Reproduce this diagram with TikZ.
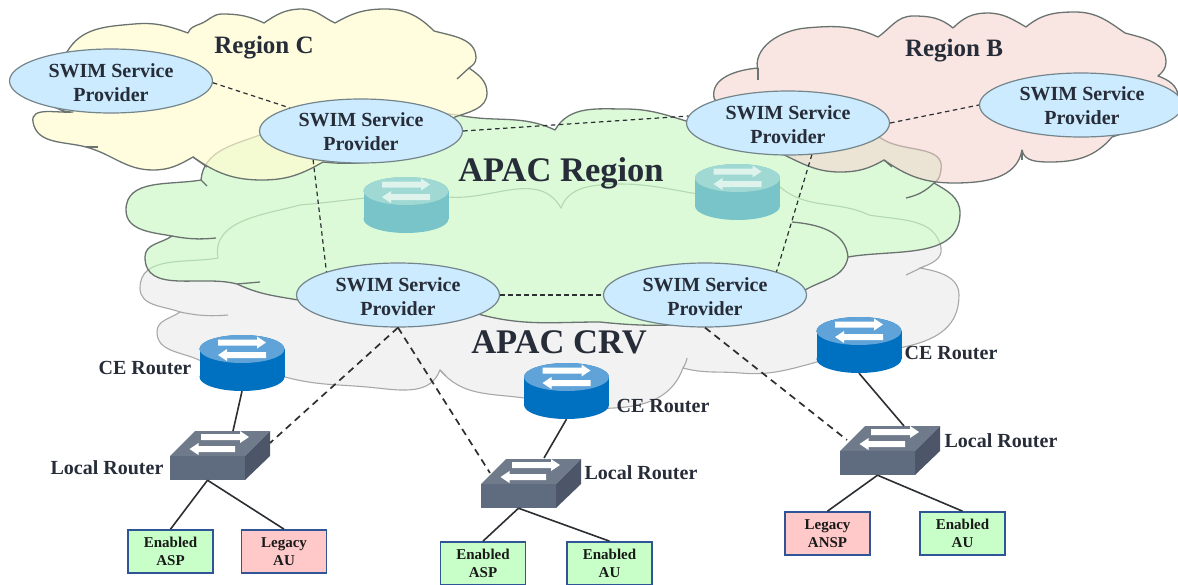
\documentclass[tikz,border=0pt]{standalone}
\usepackage{fontspec}
\setmainfont{Liberation Serif}
\usetikzlibrary{shapes.geometric}
\definecolor{txt}{HTML}{262C38}
\definecolor{cloudline}{HTML}{6A7370}
\definecolor{grayline}{HTML}{A8A8A8}
\definecolor{grayfill}{HTML}{F2F2F2}
\definecolor{greenfill}{HTML}{DCFAD8}
\definecolor{fainty}{HTML}{B4D8B0}
\definecolor{yellowfill}{HTML}{FFFCD0}
\definecolor{pinkfill}{HTML}{F5D5D0}
\definecolor{ellfill}{HTML}{CCEBFF}
\definecolor{ellline}{HTML}{75858C}
\definecolor{boxline}{HTML}{2F5597}
\definecolor{boxgreen}{HTML}{C8FFC8}
\definecolor{boxpink}{HTML}{FFC9C9}
\definecolor{cetop}{HTML}{5FA3D8}
\definecolor{ceside}{HTML}{0070C0}
\definecolor{teatop}{HTML}{A0D8D3}
\definecolor{teaside}{HTML}{79C4C8}
\definecolor{teaarrow}{HTML}{DDF3EC}
\definecolor{swfront}{HTML}{5F6B7E}
\definecolor{swtop}{HTML}{6F7A8B}
\definecolor{swside}{HTML}{4D5668}
\definecolor{linkc}{HTML}{2B2F33}
\tikzset{
  cloudedge/.style={draw=cloudline,line width=1.3pt,line join=round},
  swim/.style={ellipse,draw=ellline,fill=ellfill,line width=1.2pt,minimum width=203pt,minimum height=64pt,inner sep=0pt},
  swimtext/.style={align=center,text=txt,font=\fontsize{20}{24}\selectfont\bfseries},
  lbl/.style={text=txt,font=\fontsize{20}{24}\selectfont\bfseries,inner sep=0pt},
  bigtitle/.style={text=txt,font=\fontsize{34.5}{40}\selectfont\bfseries,inner sep=0pt},
  regiontitle/.style={text=txt,font=\fontsize{25}{30}\selectfont\bfseries,inner sep=0pt},
  devbox/.style={draw=boxline,line width=1.7pt,minimum width=85pt,minimum height=43pt,inner sep=0pt,align=center,text=black!90,font=\fontsize{15}{18}\selectfont\bfseries},
  farlink/.style={draw=linkc,line width=1.2pt,dash pattern=on 4.5pt off 3.5pt},
  nearlink/.style={draw=linkc,line width=1.7pt,dash pattern=on 7pt off 5pt},
  solidlink/.style={draw=linkc,line width=1.6pt},
  ghost/.style={inner sep=0pt,minimum width=#1,minimum height=56pt}
}
\def\graypath{(218,258) to[out=100,in=195](300,205) to[out=5,in=175](448,197) to[out=-5,in=120](561,208)
 to[out=70,in=185](600,185) to[out=5,in=170](692,193) to[out=-10,in=130](780,187) to[out=-40,in=155](869,215)
 to[out=-10,in=100](941,248) to[out=-80,in=20](920,268) to[out=-10,in=90](959,295) to[out=-90,in=15](817,362)
 to[out=195,in=-5](740,373) to[out=175,in=-15](683,368) to[out=-110,in=0](560,408) to[out=180,in=-8](524,398)
 to[out=172,in=-50](440,370) to[out=-110,in=-5](367,387) to[out=175,in=-15](285,377) to[out=165,in=-25](199,360)
 to[out=155,in=-90](157,332) to[out=90,in=215](180,312) to[out=160,in=-90](140,288) to[out=90,in=190](218,258) -- cycle}
\def\greenpath{(201,180) to[out=85,in=200](260,135) to[out=20,in=185](330,122) to[out=5,in=170](463,116) to[out=-10,in=155](555,130)
 to[out=60,in=180](625,109) to[out=0,in=165](700,125) to[out=-15,in=150](884,140) to[out=-30,in=80](941,170) to[out=-100,in=30](934,183)
 to[out=-30,in=90](960,213) to[out=-90,in=10](848,257) to[out=-100,in=30](805,290) to[bend left=15](600,322)
 to[out=180,in=-15](478,314) to[out=165,in=-10](298,300) to[out=170,in=-25](237,284) to[out=165,in=-90](145,257) to[out=90,in=215](172,236)
 to[out=170,in=-90](126,210) to[out=90,in=190](201,180) -- cycle}
\def\yellowpath{(67,52) to[out=60,in=185](134,24) to[out=5,in=160](188,33) to[out=70,in=200](200,24) to[out=20,in=180](222,14) to[out=0,in=155](264,23)
 to[out=35,in=180](302,9) to[out=0,in=155](335,23) to[out=30,in=180](385,9) to[out=0,in=135](434,31)
 to[out=-15,in=90](476,58) to[out=-90,in=35](469,68) to[out=-35,in=90](487,93) to[out=-90,in=20](455,117)
 to[bend left=25](323,162) to[out=-150,in=0](262,180) to[out=180,in=-35](193,157) to[out=-150,in=0](153,170) to[out=180,in=-15](86,147)
 to[out=165,in=-80](33,122) to[out=100,in=185](73,112) to[bend left=40](40,85) to[bend left=20](67,52) -- cycle}
\def\pinkpath{(758,72) to[out=105,in=185](806,28) to[out=5,in=155](878,37) to[out=35,in=180](913,16) to[out=0,in=140](953,28)
 to[out=45,in=180](987,13) to[out=0,in=150](1026,27) to[out=40,in=180](1075,12) to[out=0,in=145](1125,33)
 to[out=-15,in=90](1166,62) to[out=-90,in=40](1158,76) to[out=-20,in=90](1178,97) to[out=-90,in=20](1112,137)
 to[out=-130,in=0](1050,162) to[out=180,in=-80](1022,150) to[out=-100,in=0](954,183) to[out=180,in=-35](884,160)
 to[out=-150,in=0](840,172) to[out=180,in=-25](780,153) to[bend left=20](714,98) to[out=100,in=185](758,68) -- cycle}
\newcommand{\wharrow}[4][white]{%
  \pgfmathsetmacro{\hx}{#2+(#2>#3?-9:9)}%
  \fill[#1] (#3,#4-3) -- (\hx,#4-3) -- (\hx,#4-6) -- (#2,#4) -- (\hx,#4+6) -- (\hx,#4+3) -- (#3,#4+3) -- cycle;}
\newcommand{\drum}[6]{% name, cx, ytop, top colour, side colour, arrow colour
  \fill[#5] (#2,#3) ellipse[x radius=42.5,y radius=14];
  \fill[#5] (#2-42.5,#3) rectangle (#2+42.5,#3+28);
  \fill[#5] (#2,#3+28) ellipse[x radius=42.5,y radius=14];
  \fill[#4] (#2,#3) ellipse[x radius=42.5,y radius=14];
  \wharrow[#6]{#2+24}{#2-24}{#3-6.5}
  \wharrow[#6]{#2-24}{#2+24}{#3+6}
  \node[ghost=85pt,minimum height=56pt] (#1) at (#2,#3+14) {};}
\newcommand{\switchbox}[3]{% name, x of front-left, y of front-bottom
  \begin{scope}[shift={(#2,#3)}]
    \fill[swtop] (0,-24) -- (25,-49) -- (100,-49) -- (75,-24) -- cycle;
    \fill[swside] (75,0) -- (75,-24) -- (100,-49) -- (100,-24) -- cycle;
    \node[fill=swfront,minimum width=75pt,minimum height=24pt,inner sep=0pt] (#1) at (37.5,-12) {};
    \wharrow{79}{31}{-43}
    \wharrow{19.5}{65}{-31}
  \end{scope}}
\begin{document}
\begin{tikzpicture}[x=1pt,y=-1pt]
\clip (0,0) rectangle (1178,584);
% CRV cloud
\path[fill=grayfill,draw=grayline,line width=1.1pt] \graypath;
\draw[grayline,line width=1.1pt] (180,312) to[bend right=8] (228,315);
\draw[grayline,line width=1.1pt] (906,275) -- (925,266);
\draw[grayline,line width=1.1pt] (440,370) -- (446,376);
\draw[grayline,line width=1.1pt] (683,368) to[bend right=10] (687,358);
% APAC cloud
\path[fill=greenfill] \greenpath;
\begin{scope}
  \clip \greenpath;
  \draw[fainty,line width=1.1pt] \graypath;
\end{scope}
\path[cloudedge] \greenpath;
\draw[cloudedge] (792,222) to[out=-5,in=95] (848,257);
\draw[cloudedge] (906,198) to[bend right=15] (934,183);
\draw[cloudedge] (201,180) -- (207,186);
\draw[cloudedge] (172,236) to[bend right=8] (216,238);
\draw[cloudedge] (237,284) -- (260,282);
% regions
\path[fill=yellowfill,fill opacity=.7,cloudedge] \yellowpath;
\draw[cloudedge] (469,68) -- (457,79);
\draw[cloudedge] (193,157) -- (207,167);
\draw[cloudedge] (86,147) -- (98,147);
\path[fill=pinkfill,fill opacity=.6,cloudedge] \pinkpath;
\draw[cloudedge] (1022,150) -- (1022,160);
\draw[cloudedge] (758,68) -- (758,80);
\draw[cloudedge] (884,160) -- (892,167);
% titles
\node[regiontitle] (tc) at (264,47.5) {Region C};
\node[regiontitle] (tb) at (954,51) {Region B};
% providers
\node[swim] (c1) at (111,81) {};
\node[swim] (c2) at (361,131) {};
\node[swim] (c3) at (788,123) {};
\node[swim] (c4) at (1081,105) {};
\node[swim] (d1) at (398,295) {};
\node[swim] (d2) at (705,295) {};
\node[swimtext] (c1t) at (111,82.5) {SWIM Service\\Provider};
\node[swimtext] (c2t) at (361,131.5) {SWIM Service\\Provider};
\node[swimtext] (c3t) at (788,124.5) {SWIM Service\\Provider};
\node[swimtext] (c4t) at (1082,106) {SWIM Service\\Provider};
\node[swimtext] (d1t) at (398,296.5) {SWIM Service\\Provider};
\node[swimtext] (d2t) at (705,296.5) {SWIM Service\\Provider};
\node[bigtitle] (ta) at (561,173) {APAC Region};
\node[bigtitle] (tv) at (559,342.5) {APAC CRV};
% teal routers
\drum{t1}{406}{191}{teatop}{teaside}{teaarrow}
\drum{t2}{737.5}{178}{teatop}{teaside}{teaarrow}
% CE routers
\drum{ce1}{242}{349}{cetop}{ceside}{white}
\drum{ce2}{566.5}{377}{cetop}{ceside}{white}
\drum{ce3}{859}{331}{cetop}{ceside}{white}
% local routers
\switchbox{lr1}{170}{480}
\switchbox{lr2}{481}{508}
\switchbox{lr3}{840}{475}
\coordinate (lr1t) at (233,431);
\coordinate (lr1r) at (270,443);
\coordinate (lr2t) at (544,458);
\coordinate (lr2l) at (490,473);
\coordinate (lr3t) at (904,426);
\coordinate (lr3l) at (847,440);
% devices
\node[devbox,fill=boxgreen] (a1) at (170.5,551.5) {Enabled\\ASP};
\node[devbox,fill=boxpink] (b1) at (284,551.5) {Legacy\\AU};
\node[devbox,fill=boxgreen] (a2) at (483,563.5) {Enabled\\ASP};
\node[devbox,fill=boxgreen] (b2) at (609.5,563.5) {Enabled\\AU};
\node[devbox,fill=boxpink] (a3) at (827.5,533.5) {Legacy\\ANSP};
\node[devbox,fill=boxgreen] (b3) at (962.5,533.5) {Enabled\\AU};
% labels
\node[lbl] (l1) at (145,368) {CE Router};
\node[lbl] (l2) at (663,405.5) {CE Router};
\node[lbl] (l3) at (951,353) {CE Router};
\node[lbl] (l4) at (107,467.5) {Local Router};
\node[lbl] (l5) at (641,472.5) {Local Router};
\node[lbl] (l6) at (1001,440.5) {Local Router};
% provider links
\draw[farlink] (c1.-1) -- (c2.162);
\draw[farlink] (c2.0) -- (c3.176);
\draw[farlink] (c2.211) -- (d1.162);
\draw[farlink] (c3.-53) -- (d2.18);
\draw[farlink] (d1.0) -- (d2.180);
\draw[farlink] (c3.0) -- (c4.180);
% access links
\draw[nearlink] (d1.south) -- (lr1r);
\draw[nearlink] (d1.south) -- (lr2l);
\draw[nearlink] (d2.south) -- (lr3l);
\draw[solidlink] (ce1.south) -- (lr1t);
\draw[solidlink] (ce2.south) -- (lr2t);
\draw[solidlink] (ce3.south) -- (lr3t);
\draw[solidlink] (lr1.south) -- (a1.north);
\draw[solidlink] (lr1.south) -- (b1.north);
\draw[solidlink] (lr2.south) -- (a2.north);
\draw[solidlink] (lr2.south) -- (b2.north);
\draw[solidlink] (lr3.south) -- (a3.north);
\draw[solidlink] (lr3.south) -- (b3.north);
\end{tikzpicture}
\end{document}
